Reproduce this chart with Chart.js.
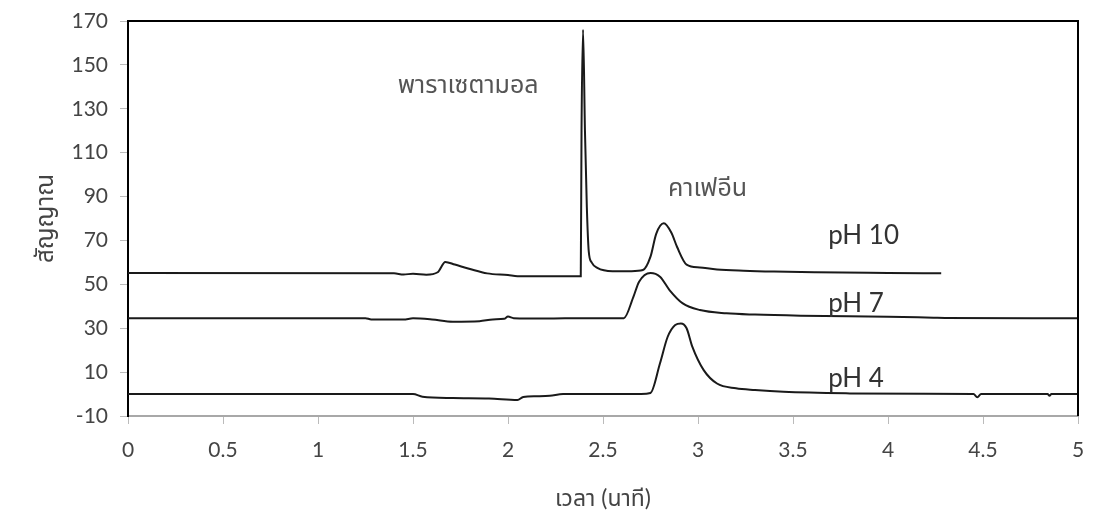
<!DOCTYPE html>
<html lang="th">
<head>
<meta charset="UTF-8">
<title>โครมาโทแกรม</title>
<style>
    html, body{
        margin: 0;
        padding: 0;
        background: #fff;
    }
    .diagrammContainer{
        position: relative;
        width: 1093px;
        height: 522px;
    }
</style>
</head>
<body>
<div class="diagrammContainer">
    <canvas id="diagramm"></canvas>
</div>
<script src="https://cdn.jsdelivr.net/npm/chart.js"></script>
<script>
// pH 10
const ph10Zeit   = [0, 1.40, 1.45, 1.50, 1.57, 1.63, 1.67, 1.72, 1.80, 1.89, 2.00, 2.05, 2.20, 2.383, 2.387, 2.395, 2.405, 2.415, 2.425, 2.44, 2.47, 2.55, 2.65, 2.71, 2.75, 2.78, 2.82, 2.86, 2.89, 2.94, 3.01, 3.10, 3.24, 3.40, 3.62, 4.00, 4.28];
const ph10Signal = [55.2, 55.0, 54.5, 54.8, 54.4, 55.5, 60.2, 59.0, 57.0, 55.0, 54.2, 53.7, 53.7, 53.7, 120, 166, 120, 85, 65, 60, 57.5, 56.0, 56.0, 56.5, 62.6, 73.0, 77.8, 73.5, 67.0, 59.0, 57.7, 56.8, 56.2, 55.8, 55.5, 55.2, 55.0];
// pH 7
const ph7Zeit   = [0, 1.25, 1.28, 1.45, 1.50, 1.60, 1.71, 1.85, 1.92, 1.98, 2.00, 2.03, 2.20, 2.40, 2.55, 2.61, 2.66, 2.69, 2.75, 2.80, 2.85, 2.92, 3.01, 3.15, 3.30, 3.54, 4.00, 4.24, 4.30, 5.00];
const ph7Signal = [34.6, 34.6, 34.0, 34.0, 34.5, 34.0, 33.0, 33.2, 34.0, 34.3, 35.3, 34.6, 34.4, 34.6, 34.5, 34.6, 44.3, 51.2, 55.2, 53.5, 47.4, 41.3, 38.3, 36.8, 36.2, 35.7, 35.2, 34.8, 34.7, 34.5];
// pH 4
const ph4Zeit   = [0, 1.50, 1.55, 1.71, 1.90, 2.05, 2.08, 2.15, 2.22, 2.29, 2.50, 2.70, 2.75, 2.80, 2.84, 2.88, 2.91, 2.94, 2.97, 3.03, 3.10, 3.20, 3.30, 3.45, 3.80, 4.20, 4.45, 4.47, 4.49, 4.60, 4.84, 4.85, 4.86, 5.00];
const ph4Signal = [0, 0, -1.2, -1.8, -2.0, -2.7, -1.3, -1.0, -0.8, 0, 0, 0, 0.5, 14, 26, 31.5, 32.2, 30, 21.6, 10.9, 4.8, 2.6, 1.8, 1.0, 0.3, 0.1, 0, -1.5, 0, 0, 0, -0.8, 0, 0];

const xTicks = ['0', '0.5', '1', '1.5', '2', '2.5', '3', '3.5', '4', '4.5', '5'];
const yTicks = ['-10', '10', '30', '50', '70', '90', '110', '130', '150', '170'];

// Beschriftungen im Diagramm
const beschriftung  = ['พาราเซตามอล', 'คาเฟอีน', 'pH 10', 'pH 7', 'pH 4'];
const beschriftungX = [1.79, 3.05, 3.685, 3.685, 3.685];
const beschriftungY = [141, 94, 72, 41, 7];

const schrift = "Lato, 'Noto Sans Thai', Loma, Garuda, 'DejaVu Sans', sans-serif";

function punkte(xs, ys){
    return xs.map((x, i) => ({x: x, y: ys[i]}));
}

const linie = {
    showLine: true,
    borderColor: '#1a1a1a',
    borderWidth: 2,
    pointRadius: 0,
    cubicInterpolationMode: 'monotone',
    fill: false
};

const rahmen = {
    id: 'rahmen',
    afterDatasetsDraw(chart){
        const {ctx, chartArea, scales} = chart;
        ctx.save();
        ctx.strokeStyle = '#000';
        ctx.lineWidth = 2;
        ctx.beginPath();
        ctx.moveTo(chartArea.left, chartArea.top);
        ctx.lineTo(chartArea.right, chartArea.top);
        ctx.lineTo(chartArea.right, chartArea.bottom);
        ctx.stroke();

        ctx.textBaseline = 'middle';
        beschriftung.forEach((t, i) => {
            const thai = i < 2;
            ctx.font = (thai ? '25px ' : '26px ') + schrift;
            ctx.fillStyle = thai ? '#555' : '#333';
            ctx.textAlign = thai ? 'center' : 'left';
            ctx.fillText(t, scales.x.getPixelForValue(beschriftungX[i]), scales.y.getPixelForValue(beschriftungY[i]));
        });
        ctx.restore();
    }
};

new Chart(document.getElementById('diagramm').getContext('2d'), {
    type: 'scatter',
    data: {
        datasets: [
            Object.assign({label: 'pH 10', data: punkte(ph10Zeit, ph10Signal)}, linie),
            Object.assign({label: 'pH 7', data: punkte(ph7Zeit, ph7Signal)}, linie),
            Object.assign({label: 'pH 4', data: punkte(ph4Zeit, ph4Signal)}, linie)
        ]
    },
    options: {
        responsive: true,
        maintainAspectRatio: false,
        animation: false,
        layout: {padding: {top: 21, right: 15, left: 0, bottom: 0}},
        plugins: {
            legend: {display: false},
            tooltip: {enabled: false}
        },
        scales: {
            x: {
                type: 'linear',
                min: 0,
                max: 5,
                afterFit: s => { s.height = 106; s.paddingLeft = 0; s.paddingRight = 0; },
                ticks: {
                    stepSize: 0.5,
                    padding: 14,
                    color: '#444',
                    font: {family: schrift, size: 21},
                    callback: (v, i) => xTicks[i]
                },
                grid: {drawOnChartArea: false, color: '#bbb', tickLength: 8},
                border: {color: '#a8a8a8', width: 2},
                title: {
                    display: true,
                    text: 'เวลา (นาที)',
                    color: '#444',
                    font: {family: schrift, size: 23},
                    padding: {top: 0, bottom: 10}
                }
            },
            y: {
                min: -10,
                max: 170,
                afterFit: s => { s.width = 128; s.paddingTop = 0; s.paddingBottom = 0; },
                ticks: {
                    stepSize: 20,
                    padding: 12,
                    color: '#444',
                    font: {family: schrift, size: 21},
                    callback: (v, i) => yTicks[i]
                },
                grid: {drawOnChartArea: false, color: '#bbb', tickLength: 8},
                border: {color: '#000', width: 2},
                title: {
                    display: true,
                    text: 'สัญญาณ',
                    color: '#444',
                    font: {family: schrift, size: 24},
                    padding: {top: 31, bottom: 0}
                }
            }
        }
    },
    plugins: [rahmen]
});
</script>
</body>
</html>
